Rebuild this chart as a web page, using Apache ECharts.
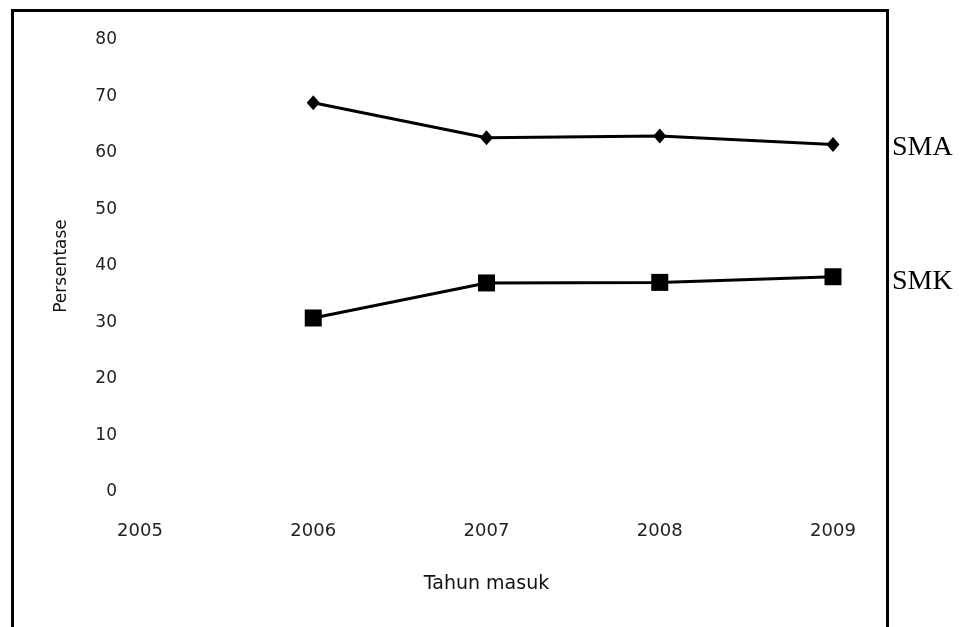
<!DOCTYPE html>
<html>
<head>
<meta charset="utf-8">
<script src="https://cdn.jsdelivr.net/npm/echarts@6/dist/echarts.min.js"></script>
<style>html,body{margin:0;padding:0;background:#fff}#c{width:961px;height:627px}</style>
</head>
<body>
<div id="c"></div>
<script>
const years = [2006, 2007, 2008, 2009];
const smaValues = [68.9, 62.7, 63.0, 61.5];
const smkValues = [30.8, 37.0, 37.1, 38.1];
const seriesNames = ['SMA', 'SMK'];
const xTitle = 'Tahun masuk';
const yTitle = 'Persentase';

const chart = echarts.init(document.getElementById('c'));
const FONT = 'DejaVu Sans';
chart.setOption({
  animation: false,
  backgroundColor: '#fff',
  grid: { left: 140, right: 128, top: 40, bottom: 135 },
  xAxis: {
    type: 'value', min: 2005, max: 2009, interval: 1,
    name: xTitle, nameLocation: 'middle', nameGap: 83,
    nameTextStyle: { fontFamily: FONT, fontSize: 19, color: '#111' },
    axisLine: { show: false }, axisTick: { show: false }, splitLine: { show: false },
    axisLabel: { margin: 30, formatter: v => String(v), fontFamily: FONT, fontSize: 18, color: '#222' }
  },
  yAxis: {
    type: 'value', min: 0, max: 80, interval: 10,
    name: yTitle, nameLocation: 'middle', nameGap: 70,
    nameTextStyle: { fontFamily: FONT, fontSize: 17, color: '#111' },
    axisLine: { show: false }, axisTick: { show: false }, splitLine: { show: false },
    axisLabel: { margin: 23, fontFamily: FONT, fontSize: 17, color: '#222' }
  },
  graphic: [{
    type: 'rect', left: 10, top: 8, silent: true,
    shape: { width: 875, height: 650 },
    style: { fill: 'none', stroke: '#000', lineWidth: 3 }
  }],
  series: [
    {
      name: seriesNames[0], type: 'line',
      data: years.map((y, i) => [y, smaValues[i]]),
      symbol: 'diamond', symbolSize: [13, 15],
      lineStyle: { color: '#000', width: 3 },
      itemStyle: { color: '#000' },
      endLabel: { show: true, formatter: seriesNames[0], distance: 59,
        fontFamily: 'Liberation Serif', fontSize: 28, color: '#000', offset: [0, 3] }
    },
    {
      name: seriesNames[1], type: 'line',
      data: years.map((y, i) => [y, smkValues[i]]),
      symbol: 'rect', symbolSize: 17,
      lineStyle: { color: '#000', width: 3 },
      itemStyle: { color: '#000' },
      endLabel: { show: true, formatter: seriesNames[1], distance: 59,
        fontFamily: 'Liberation Serif', fontSize: 28, color: '#000', offset: [0, 5] }
    }
  ]
});
</script>
</body>
</html>
